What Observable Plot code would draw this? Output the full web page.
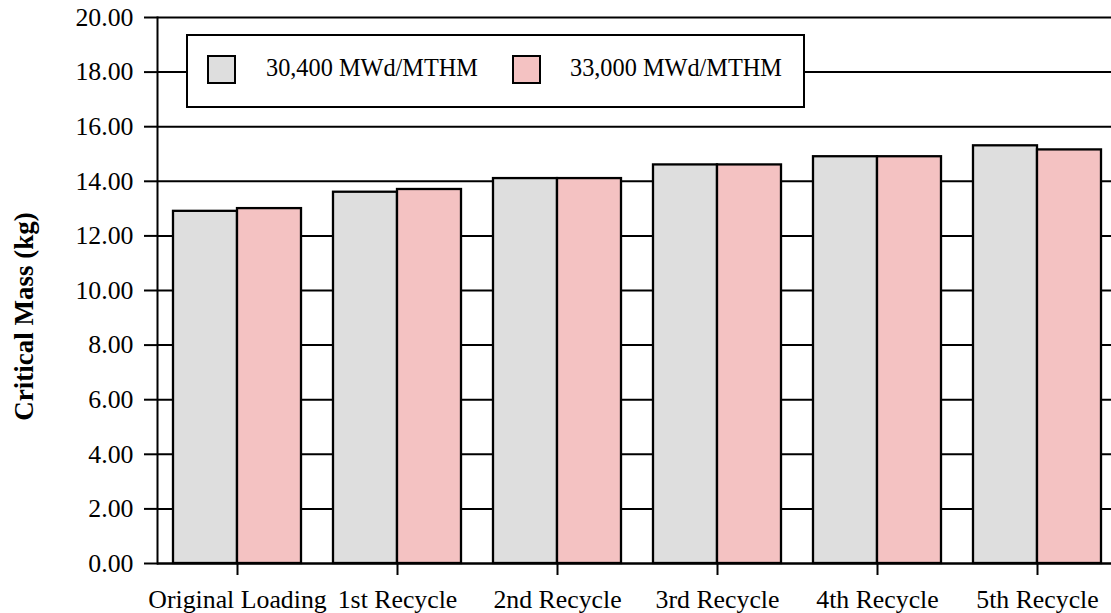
<!DOCTYPE html>
<html>
<head>
<meta charset="utf-8">
<script src="https://cdn.jsdelivr.net/npm/d3@7"></script>
<script src="https://cdn.jsdelivr.net/npm/@observablehq/plot@0.6"></script>
<style>
  html, body { margin: 0; padding: 0; background: #fff; }
  #wrap { position: relative; width: 1111px; height: 613px; overflow: hidden; font-family: "Liberation Serif", "Times New Roman", serif; }
  #legend { position: absolute; left: 186px; top: 34px; width: 615px; height: 70px; border: 2px solid #000; background: #fff; }
  .sw { position: absolute; top: 19px; width: 25px; height: 25px; border: 2px solid #000; }
  .lt { position: absolute; top: 17px; font-size: 24.3px; line-height: 30px; color: #000; white-space: nowrap; }
</style>
</head>
<body>
<div id="wrap"></div>
<script>
const categories = ["Original Loading", "1st Recycle", "2nd Recycle", "3rd Recycle", "4th Recycle", "5th Recycle"];
const seriesNames = ["30,400 MWd/MTHM", "33,000 MWd/MTHM"];
const burnup30400 = [12.9, 13.6, 14.1, 14.6, 14.9, 15.3];
const burnup33000 = [13.0, 13.7, 14.1, 14.6, 14.9, 15.15];
const seriesColors = ["#dedede", "#f4c2c2"];
const yTicks = [0, 2, 4, 6, 8, 10, 12, 14, 16, 18, 20];
const yLabel = "Critical Mass (kg)";

const rowsA = categories.map((c, i) => ({category: c, value: burnup30400[i]}));
const rowsB = categories.map((c, i) => ({category: c, value: burnup33000[i]}));

const xRange = [157, 1117];
const step = (xRange[1] - xRange[0]) / categories.length;
const half = step * 0.8 / 2;

const chart = Plot.plot({
  width: 1111,
  height: 613,
  marginTop: 17,
  marginBottom: 50,
  marginLeft: 157,
  marginRight: 0,
  style: {fontFamily: "'Liberation Serif', 'Times New Roman', serif", fontSize: "25.8px", color: "#000", background: "#fff"},
  x: {domain: categories, range: xRange, paddingInner: 0.2, paddingOuter: 0.1},
  y: {domain: [0, 20]},
  marks: [
    Plot.gridY(yTicks, {stroke: "#000", strokeOpacity: 1, strokeWidth: 2}),
    Plot.barY(rowsA, {x: "category", y: "value", fill: seriesColors[0], stroke: "#000", strokeWidth: 2.3, insetRight: half}),
    Plot.barY(rowsB, {x: "category", y: "value", fill: seriesColors[1], stroke: "#000", strokeWidth: 2.3, insetLeft: half}),
    Plot.axisY(yTicks, {tickFormat: d => d.toFixed(2), tickSize: 13, tickPadding: 11, strokeWidth: 2, label: null}),
    Plot.axisX({tickSize: 12, tickPadding: 14, strokeWidth: 2, label: null}),
    Plot.frame({anchor: "left", stroke: "#000", strokeWidth: 2}),
    Plot.ruleY([0], {stroke: "#000", strokeWidth: 2}),
    Plot.text([yLabel], {frameAnchor: "left", textAnchor: "middle", rotate: -90, dx: -133, dy: 26, fontWeight: "bold", fontSize: 27})
  ]
});

const wrap = document.getElementById("wrap");
wrap.appendChild(chart);

const legend = document.createElement("div");
legend.id = "legend";
const pos = [{sw: 19, tx: 78}, {sw: 324, tx: 382}];
seriesNames.forEach((name, i) => {
  const s = document.createElement("div");
  s.className = "sw";
  s.style.left = pos[i].sw + "px";
  s.style.background = seriesColors[i];
  legend.appendChild(s);
  const t = document.createElement("div");
  t.className = "lt";
  t.style.left = pos[i].tx + "px";
  t.textContent = name;
  legend.appendChild(t);
});
wrap.appendChild(legend);
</script>
</body>
</html>
